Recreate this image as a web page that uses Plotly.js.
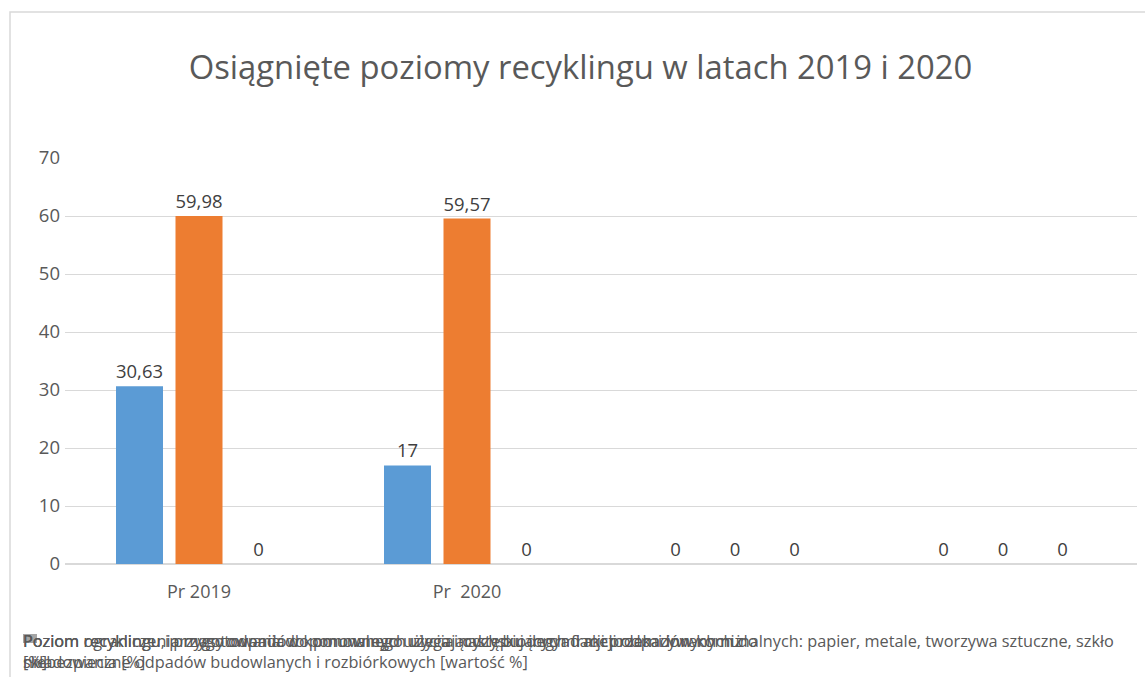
<!DOCTYPE html>
<html><head><meta charset="utf-8">
<script src="https://cdn.plot.ly/plotly-3.0.1.min.js"></script>
<style>html,body{margin:0;padding:0;background:#fff}#chart{width:1145px;height:677px}</style>
</head><body><div id="chart"></div>
<script>
const categories = ["Pr 2019", "Pr  2020", " ", "  "];
const seriesNames = [
  "Poziom recyklingu i przygotowania do ponownego użycia następujących frakcji odpadów komunalnych: papier, metale, tworzywa sztuczne, szkło<br>[%]",
  "Poziom ograniczenia masy odpadów komunalnych ulegających biodegradacji przekazywanych do<br>składowania [%]",
  "Poziom recyklingu, przygotowania do ponownego użycia i odzysku innymi metodami innych niż<br>niebezpieczne odpadów budowlanych i rozbiórkowych [wartość %]"
];
const series1 = [30.63, 17, 0, 0];
const series2 = [59.98, 59.57, 0, 0];
const series3 = [0, 0, 0, 0];
const labels1 = ["30,63", "17", "0", "0"];
const labels2 = ["59,98", "59,57", "0", "0"];
const labels3 = ["0", "0", "0", "0"];
const colors = ["#5B9BD5", "#ED7D31", "#A5A5A5"];

const font = "Open Sans, sans-serif";
function tr(y, lab, c, name) {
  return {type: "bar", x: categories, y: y, name: name, text: lab,
    textposition: "outside", cliponaxis: false,
    textfont: {family: font, size: 18.5, color: "#404040"},
    marker: {color: c, line: {color: c, width: 0}}, showlegend: false, hoverinfo: "none"};
}
const data = [tr(series1, labels1, colors[0], seriesNames[0]),
              tr(series2, labels2, colors[1], seriesNames[1]),
              tr(series3, labels3, colors[2], seriesNames[2])];

const W = 1072;
const annotations = seriesNames.map(n => ({
  text: n, xref: "paper", yref: "paper", x: (21 - 65) / W, y: (564 - 628) / 406,
  xanchor: "left", yanchor: "top", align: "left", showarrow: false,
  font: {family: font, size: 16.3, color: "#595959"}
}));

const layout = {
  width: 1145, height: 677,
  margin: {l: 65, r: 8, t: 158, b: 113},
  paper_bgcolor: "#fff", plot_bgcolor: "#fff",
  title: {text: "Osiągnięte poziomy recyklingu w latach 2019 i 2020",
    font: {family: font, size: 32.8, color: "#595959"}, x: 0.507, xanchor: "center", y: 0.9, yanchor: "middle"},
  barmode: "group", bargap: 0.334, bargroupgap: 0.21,
  xaxis: {type: "category", showgrid: false, showline: false, ticks: "",
    ticklabelstandoff: 15,
    tickfont: {family: font, size: 18, color: "#595959"}, zeroline: false},
  yaxis: {range: [0, 70], dtick: 10, showgrid: true, gridcolor: "#D9D9D9", gridwidth: 1,
    zeroline: true, zerolinecolor: "#D9D9D9", zerolinewidth: 2, showline: false, ticks: "",
    ticklabelstandoff: 4,
    tickfont: {family: font, size: 18.5, color: "#595959"}},
  annotations: annotations,
  shapes: [
    {type: "rect", xref: "paper", yref: "paper", x0: (10 - 65) / W, x1: 1.02, y0: (564 - 690) / 406, y1: (564 - 12) / 406,
      line: {color: "#D9D9D9", width: 1.5}, fillcolor: "rgba(0,0,0,0)", layer: "below"},
    {type: "rect", xref: "paper", yref: "paper", x0: (23 - 65) / W, x1: (37 - 65) / W, y0: (564 - 643) / 406, y1: (564 - 634) / 406,
      line: {width: 0}, fillcolor: colors[2], layer: "below"}
  ]
};
Plotly.newPlot("chart", data, layout, {displayModeBar: false, staticPlot: true});
</script></body></html>
